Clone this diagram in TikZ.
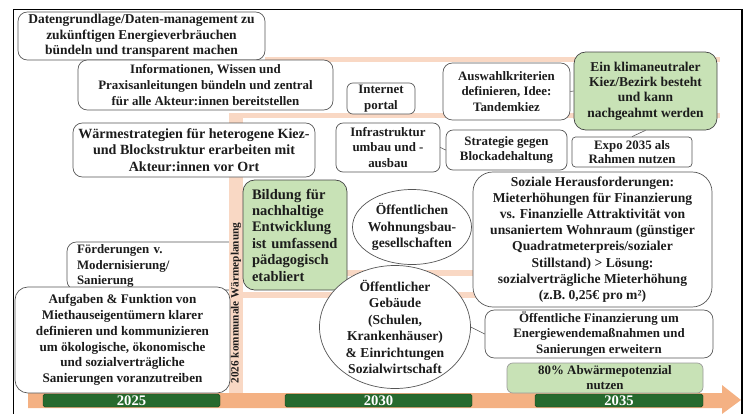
\documentclass[tikz,border=0pt]{standalone}
\usepackage{fontspec}
\setmainfont{Liberation Serif}
\usetikzlibrary{shapes.geometric}
\newdimen\pxu
\pxu=0.03cm
\definecolor{bandpeach}{HTML}{F9D8C4}
\definecolor{arrowpeach}{HTML}{F4B183}
\definecolor{bargreen}{HTML}{276A2E}
\definecolor{lightgreen}{HTML}{C8E2B6}
\definecolor{boxgray}{HTML}{555555}
\definecolor{txt}{HTML}{1C1C1C}
\tikzset{
  box/.style={draw=boxgray, line width=0.6pt, rounded corners=8pt, fill=white, align=center,
    inner sep=1pt, text=txt, font=\bfseries\fontsize{11}{13.4}\selectfont},
  greenbox/.style={box, fill=lightgreen, draw=boxgray!80!black},
  oval/.style={ellipse, draw=boxgray, line width=0.6pt, fill=white, align=center,
    inner xsep=-3pt, inner ysep=-3pt, text=txt, font=\bfseries\fontsize{11.6}{14}\selectfont},
  yearbar/.style={fill=bargreen, draw=bargreen!60!black, rounded corners=1.5pt, text=white,
    inner sep=0pt, font=\bfseries\fontsize{12.5}{12}\selectfont},
  link/.style={draw=boxgray, line width=0.5pt},
}

\begin{document}
\begin{tikzpicture}[x=0.03cm, y=-0.03cm]
\useasboundingbox (0,0) rectangle (745,414);
% background bands
\fill[bandpeach] (265,57) rectangle (720,62);
\fill[bandpeach] (229,113) rectangle (720,118);
\fill[bandpeach] (243,270) rectangle (478,276);
\fill[bandpeach] (243,292) rectangle (478,298);
% timeline
\fill[arrowpeach] (28,393) -- (722,393) -- (722,385) -- (741,400) -- (722,414) -- (722,408) -- (28,408) -- cycle;
\node[yearbar, minimum width=177\pxu, minimum height=13\pxu] (y2025) at (131.5,400.5) {2025};
\node[yearbar, minimum width=187\pxu, minimum height=13\pxu] (y2030) at (378.5,400.5) {2030};
\node[yearbar, minimum width=168\pxu, minimum height=13\pxu] (y2035) at (619,400.5) {2035};

% left column
\node[box, align=left, text width=153\pxu, inner xsep=10\pxu, minimum height=48\pxu] (foerder) at (153.5,266)
  {Förderungen v.\\Modernisierung/\\Sanierung};
\fill[bandpeach] (229,118) rectangle (243,393);
\node[rotate=90, text=txt, font=\bfseries\fontsize{9.6}{10}\selectfont] (planung) at (236,303)
  {2026 kommunale Wärmeplanung};
\node[box, font=\bfseries\fontsize{11.5}{13.4}\selectfont, minimum width=247\pxu, minimum height=48\pxu] (daten) at (141.5,36)
  {Datengrundlage/Daten-management zu\\zukünftigen Energieverbräuchen\\bündeln und transparent machen};
\node[box, minimum width=255\pxu, minimum height=50\pxu] (info) at (205.5,85)
  {Informationen, Wissen und\\Praxisanleitungen bündeln und zentral\\für alle Akteur:innen bereitstellen};
\node[box, font=\bfseries\fontsize{12}{14}\selectfont, minimum width=242\pxu, minimum height=54\pxu] (waerme) at (194,150)
  {Wärmestrategien für heterogene Kiez-\\und Blockstruktur erarbeiten mit\\Akteur:innen vor Ort};
\node[box, rounded corners=11pt, font=\bfseries\fontsize{11.2}{13.5}\selectfont,
  minimum width=215\pxu, minimum height=106\pxu] (aufgaben) at (122.5,340)
  {Aufgaben \& Funktion von\\Miethauseigentümern klarer\\definieren und kommunizieren\\um ökologische, ökonomische\\und sozialverträgliche\\Sanierungen voranzutreiben};

% middle
\node[greenbox, rounded corners=10pt, align=left, text width=86\pxu, inner xsep=9\pxu, minimum height=110\pxu,
  font=\bfseries\fontsize{12.4}{14}\selectfont] (bildung) at (295,235)
  {Bildung für\\nachhaltige\\Entwicklung\\ist umfassend\\pädagogisch\\etabliert};
\node[box, rounded corners=5pt, minimum width=68\pxu, minimum height=31\pxu] (portal) at (381,98.5)
  {Internet\\portal};
\node[box, rounded corners=6pt, minimum width=104\pxu, minimum height=49\pxu] (infra) at (388,147.5)
  {Infrastruktur\\umbau und -\\ausbau};
\node[oval, minimum width=119\pxu, minimum height=75\pxu] (wohnbau) at (412,227)
  {Öffentlichen\\Wohnungsbau-\\gesellschaften};
\node[oval, minimum width=151\pxu, minimum height=123\pxu] (gebaeude) at (395,327)
  {Öffentlicher\\Gebäude\\(Schulen,\\Krankenhäuser)\\\& Einrichtungen\\Sozialwirtschaft};

% right column
\node[box, minimum width=127\pxu, minimum height=57\pxu] (auswahl) at (506.5,91.5)
  {Auswahlkriterien\\definieren, Idee:\\Tandemkiez};
\node[greenbox, rounded corners=10pt, minimum width=143\pxu, minimum height=78\pxu,
  font=\bfseries\fontsize{11.5}{13}\selectfont] (kiez) at (645.5,91)
  {Ein klimaneutraler\\Kiez/Bezirk besteht\\und kann\\nachgeahmt werden};
\node[box, rounded corners=6pt, minimum width=121\pxu, minimum height=40\pxu] (blockade) at (506.5,150)
  {Strategie gegen\\Blockadehaltung};
\node[box, rounded corners=3pt, minimum width=120\pxu, minimum height=30\pxu,
  font=\bfseries\fontsize{11}{12.6}\selectfont] (expo) at (632,152)
  {Expo 2035 als\\Rahmen nutzen};
\node[box, rounded corners=17pt, minimum width=239\pxu, minimum height=135\pxu,
  font=\bfseries\fontsize{11.6}{13.8}\selectfont] (sozial) at (592.5,239.5)
  {Soziale Herausforderungen:\\Mieterhöhungen für Finanzierung\\vs. Finanzielle Attraktivität von\\unsaniertem Wohnraum (günstiger\\Quadratmeterpreis/sozialer\\Stillstand) > Lösung:\\sozialverträgliche Mieterhöhung\\(z.B. 0,25€ pro m²)};
\node[box, minimum width=228\pxu, minimum height=48\pxu] (finanz) at (599,334)
  {Öffentliche Finanzierung um\\Energiewendemaßnahmen und\\Sanierungen erweitern};
\node[greenbox, rounded corners=5pt, draw=boxgray!60, inner sep=0pt, minimum width=196\pxu, minimum height=30\pxu,
  font=\bfseries\fontsize{11}{12.8}\selectfont] (abwaerme) at (605,378)
  {80\% Abwärmepotenzial\\nutzen};

% connectors
\draw[link] (auswahl.east) -- (kiez.west);
\draw[link] (kiez.south) -- (expo.north);
\draw[link] (infra.east) -- (blockade.west);
\draw[link] (gebaeude.east) -- (finanz.west);

% frame
\draw[black, line width=1pt] (13.5,414) -- (13.5,9.5) -- (742,9.5) -- (742,414);
\end{tikzpicture}
\end{document}
